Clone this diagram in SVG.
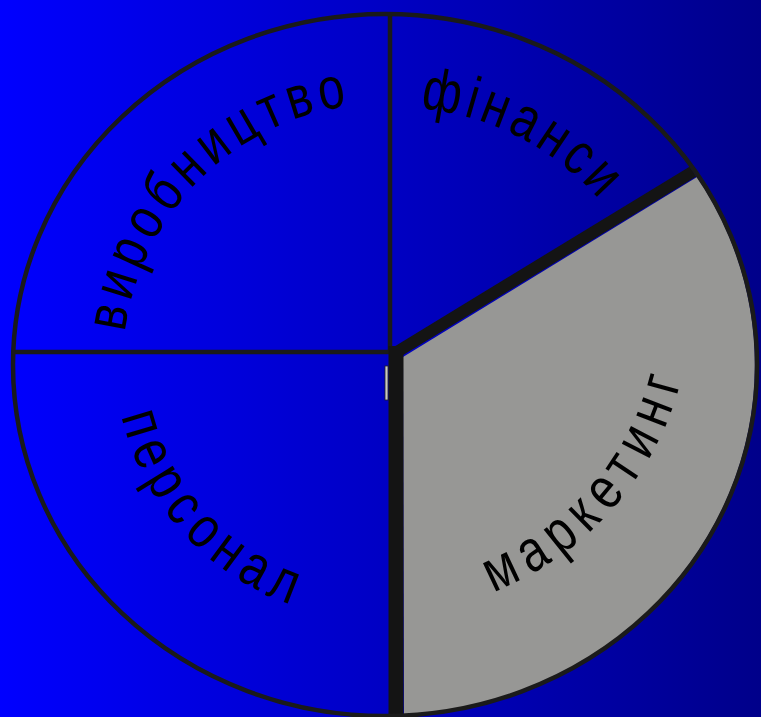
<svg xmlns="http://www.w3.org/2000/svg" width="761" height="717" viewBox="0 0 761 717">
  <defs>
    <linearGradient id="bg" x1="0" y1="0" x2="1" y2="0">
      <stop offset="0" stop-color="#0000FF"/>
      <stop offset="1" stop-color="#00008A"/>
    </linearGradient>
    <path id="p-vyr" d="M 125.1 332.3 A 261 261 0 0 1 474.3 119.7"/>
    <path id="p-fin" d="M 420 108.3 A 274 274 0 0 1 642.3 265.2"/>
    <path id="p-per" d="M 121.5 416 A 262 262 0 0 0 355.2 618"/>
    <path id="p-mar" d="M 493 592 A 311 311 0 0 0 691 302"/>
  </defs>
  <style>
    .lbl { font-family: "Liberation Sans", Arial, sans-serif; font-size: 59px; fill: #000000; }
    .thin { stroke: #1a1a1a; stroke-width: 4.5; fill: none; }
    .thick { stroke: #141414; fill: none; stroke-linecap: butt; }
  </style>
  <rect x="0" y="0" width="761" height="717" fill="url(#bg)"/>

  <g id="sector-marketing">
    <path d="M 403 357 L 697 177 A 372 351 0 0 1 404 715.5 Z" fill="#979795"/>
  </g>

  <g id="connectors">
    <line class="thin" x1="390" y1="14" x2="390" y2="352"/>
    <line class="thin" x1="13" y1="352" x2="392" y2="352"/>
    <line class="thick" x1="396" y1="352.5" x2="693" y2="171.5" stroke-width="12"/>
    <line class="thick" x1="396" y1="346" x2="396" y2="717" stroke-width="15"/>
    <rect x="385" y="366" width="3" height="34" fill="#c8c8c4" stroke="#202020" stroke-width="0.8"/>
  </g>

  <g id="outline">
    <ellipse cx="385" cy="365" rx="372" ry="351" fill="none" stroke="#1a1a1a" stroke-width="4.5"/>
  </g>

  <g id="sector-vyrobnytstvo">
    <text class="lbl" letter-spacing="7"><textPath href="#p-vyr" textLength="346" lengthAdjust="spacingAndGlyphs">виробництво</textPath></text>
  </g>
  <g id="sector-finansy">
    <text class="lbl" letter-spacing="5.4"><textPath href="#p-fin" textLength="210" lengthAdjust="spacingAndGlyphs">фінанси</textPath></text>
  </g>
  <g id="sector-personal">
    <text class="lbl" letter-spacing="9.4"><textPath href="#p-per" textLength="272" lengthAdjust="spacingAndGlyphs">персонал</textPath></text>
  </g>
  <g id="sector-marketing-label">
    <text class="lbl" letter-spacing="11.1"><textPath href="#p-mar" textLength="303" lengthAdjust="spacingAndGlyphs">маркетинг</textPath></text>
  </g>
</svg>
